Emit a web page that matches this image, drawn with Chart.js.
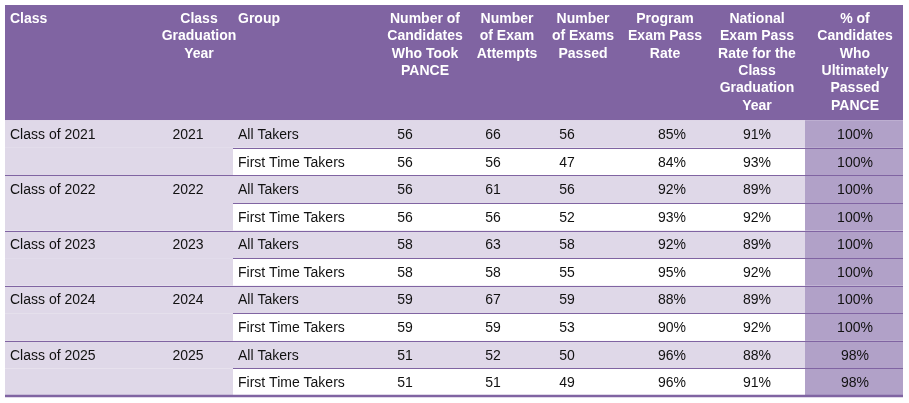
<!DOCTYPE html>
<html><head><meta charset="utf-8">
<script src="https://cdn.jsdelivr.net/npm/chart.js@4"></script>
<style>html,body{margin:0;padding:0;background:#fff}#w{width:909px;height:403px}</style>
</head><body><div id="w"><canvas id="c"></canvas></div>
<script>
const headers = [["Class"],["Class","Graduation","Year"],["Group"],["Number of","Candidates","Who Took","PANCE"],["Number","of Exam","Attempts"],["Number","of Exams","Passed"],["Program","Exam Pass","Rate"],["National","Exam Pass","Rate for the","Class","Graduation","Year"],["% of","Candidates","Who","Ultimately","Passed","PANCE"]];
const classes = ["Class of 2021","Class of 2022","Class of 2023","Class of 2024","Class of 2025"];
const years = ["2021","2022","2023","2024","2025"];
const groups = ["All Takers","First Time Takers"];
const candidates = [56,56,56,56,58,58,59,59,51,51];
const attempts = [66,56,61,56,63,58,67,59,52,51];
const passed = [56,47,56,52,58,55,59,53,50,49];
const programRate = ["85%","84%","92%","93%","92%","95%","88%","90%","96%","96%"];
const nationalRate = ["91%","93%","89%","92%","89%","92%","89%","92%","88%","91%"];
const ultimateRate = ["100%","100%","100%","100%","100%","100%","100%","100%","98%","98%"];

const edges = [0,160,228,375,465,540,615,705,800,898];
const textX = [5,183,233,400,488,562,667,752,850];
const align = ['left','center','left','center','center','center','center','center','center'];
const hdrX = [5,194,233,420,502,578,660,752,850];
const hdrAlign = ['left','center','left','center','center','center','center','center','center'];
const HDR = 115/27.5;
const PURPLE='#8064A2', LAV='#DFD8E8', DARK='#B1A1C8';

const tablePlugin = {
  id:'table',
  beforeDatasetsDraw(chart){
    const {ctx, scales:{x,y}} = chart;
    const X=v=>x.getPixelForValue(v), Y=v=>y.getPixelForValue(v);
    ctx.save();
    // header
    ctx.fillStyle=PURPLE; ctx.fillRect(X(0),Y(-HDR),X(898)-X(0),Y(0)-Y(-HDR));
    ctx.fillStyle='#fff'; ctx.font='bold 14px "Liberation Sans", Arial'; ctx.textBaseline='top';
    headers.forEach((h,i)=>{ctx.textAlign=hdrAlign[i]; h.forEach((l,j)=>ctx.fillText(l,X(hdrX[i]),Y(-HDR)+7+j*17.4));});
    // rows
    for(let r=0;r<10;r++){
      const top=Y(r), bot=Y(r+1);
      ctx.fillStyle=LAV; ctx.fillRect(X(0),top,X(edges[2])-X(0),bot-top);
      ctx.fillStyle=r%2===0?LAV:'#fff'; ctx.fillRect(X(edges[2]),top,X(edges[8])-X(edges[2]),bot-top);
      ctx.fillStyle=DARK; ctx.fillRect(X(edges[8]),top,X(898)-X(edges[8]),bot-top);
      const vals=[r%2===0?classes[r/2]:'', r%2===0?years[r/2]:'', groups[r%2], candidates[r],attempts[r],passed[r],programRate[r],nationalRate[r],ultimateRate[r]];
      ctx.fillStyle='#111'; ctx.font='14px "Liberation Sans", Arial'; ctx.textBaseline='middle';
      vals.forEach((v,i)=>{ctx.textAlign=align[i]; ctx.fillText(String(v),X(textX[i]),(top+bot)/2+1);});
    }
    ctx.strokeStyle=PURPLE; ctx.lineWidth=1.2;
    for(let r=1;r<10;r++){
      const yy=Math.round(Y(r))+0.5;
      ctx.beginPath(); ctx.moveTo(r%2===0?X(0):X(edges[2]),yy); ctx.lineTo(X(898),yy); ctx.stroke();
    }
    ctx.lineWidth=2.5; ctx.beginPath(); ctx.moveTo(X(0),Y(10)); ctx.lineTo(X(898),Y(10)); ctx.stroke();
    ctx.restore();
  }
};
new Chart(document.getElementById('c'),{
  type:'scatter',
  data:{datasets:[{data:candidates.map((v,i)=>({x:textX[3],y:i+0.5})),pointRadius:0}]},
  options:{responsive:true,maintainAspectRatio:false,animation:false,
    layout:{padding:{left:5,right:6,top:5,bottom:7}},
    plugins:{legend:{display:false},tooltip:{enabled:false}},
    scales:{x:{type:'linear',min:0,max:898,display:false},y:{type:'linear',min:-HDR,max:10,reverse:true,display:false}}},
  plugins:[tablePlugin]
});
</script></body></html>
